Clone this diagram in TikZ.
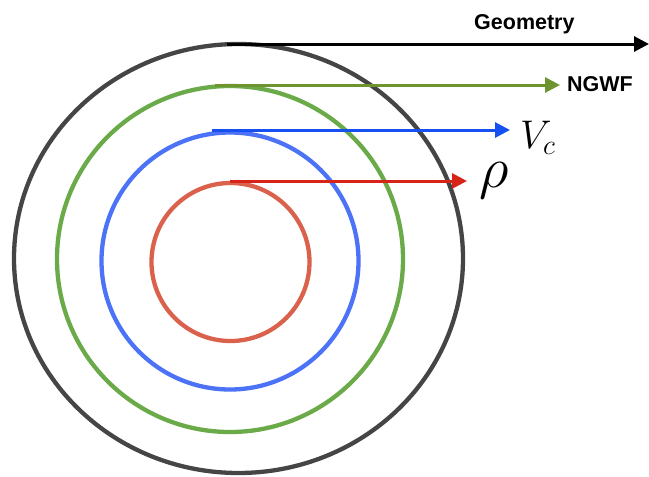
\RequirePackage{fix-cm}
\documentclass[tikz,border=0pt]{standalone}
\usepackage{fontspec}
\newfontfamily\labfont{Liberation Sans}
\usetikzlibrary{arrows.meta}
\definecolor{ringred}{HTML}{DA614C}
\definecolor{ringblue}{HTML}{4B72F7}
\definecolor{ringgreen}{HTML}{6AAA48}
\definecolor{ringblack}{HTML}{454545}
\definecolor{arrred}{HTML}{D62518}
\definecolor{arrblue}{HTML}{1650F0}
\definecolor{arrgreen}{HTML}{6E9430}
\tikzset{
  ring/.style={line width=4.3pt},
  ptr/.style={line width=3pt,-{Triangle[length=15pt,width=15pt]}},
  txtlab/.style={inner sep=0pt,anchor=base west,font=\labfont\bfseries\fontsize{21.5}{25}\selectfont},
  mathlab/.style={inner sep=0pt,anchor=base west}
}
\begin{document}
\begin{tikzpicture}[x=1pt,y=-1pt]
\useasboundingbox (0,0) rectangle (649,477);
% rings
\draw[ring,ringblack] (238.5,258.5) ellipse [x radius=224.5,y radius=214.5];
\draw[ring,ringgreen] (230,259) circle [radius=173];
\draw[ring,ringblue] (230,261) circle [radius=128.5];
\draw[ring,ringred] (230.5,262) circle [radius=79];
% arrow coordinates
\coordinate (gs) at (227,44);
\coordinate (ge) at (649,44);
\coordinate (ns) at (215,85);
\coordinate (ne) at (560,85);
\coordinate (vs) at (212,130);
\coordinate (ve) at (510,130);
\coordinate (rs) at (230,181);
\coordinate (re) at (467,181);
\draw[ptr,black] (gs) -- (ge);
\draw[ptr,arrgreen] (ns) -- (ne);
\draw[ptr,arrblue] (vs) -- (ve);
\draw[ptr,arrred] (rs) -- (re);
% labels
\node[txtlab] (geo) at (474,29.5) {Geometry};
\node[txtlab] (ngwf) at (567,91) {NGWF};
\node[mathlab,font=\fontsize{40}{44}\selectfont] (vc) at (520,148) {$V_c$};
\node[mathlab,font=\fontsize{58}{62}\selectfont] (rho) at (479,187) {$\rho$};
\end{tikzpicture}
\end{document}
